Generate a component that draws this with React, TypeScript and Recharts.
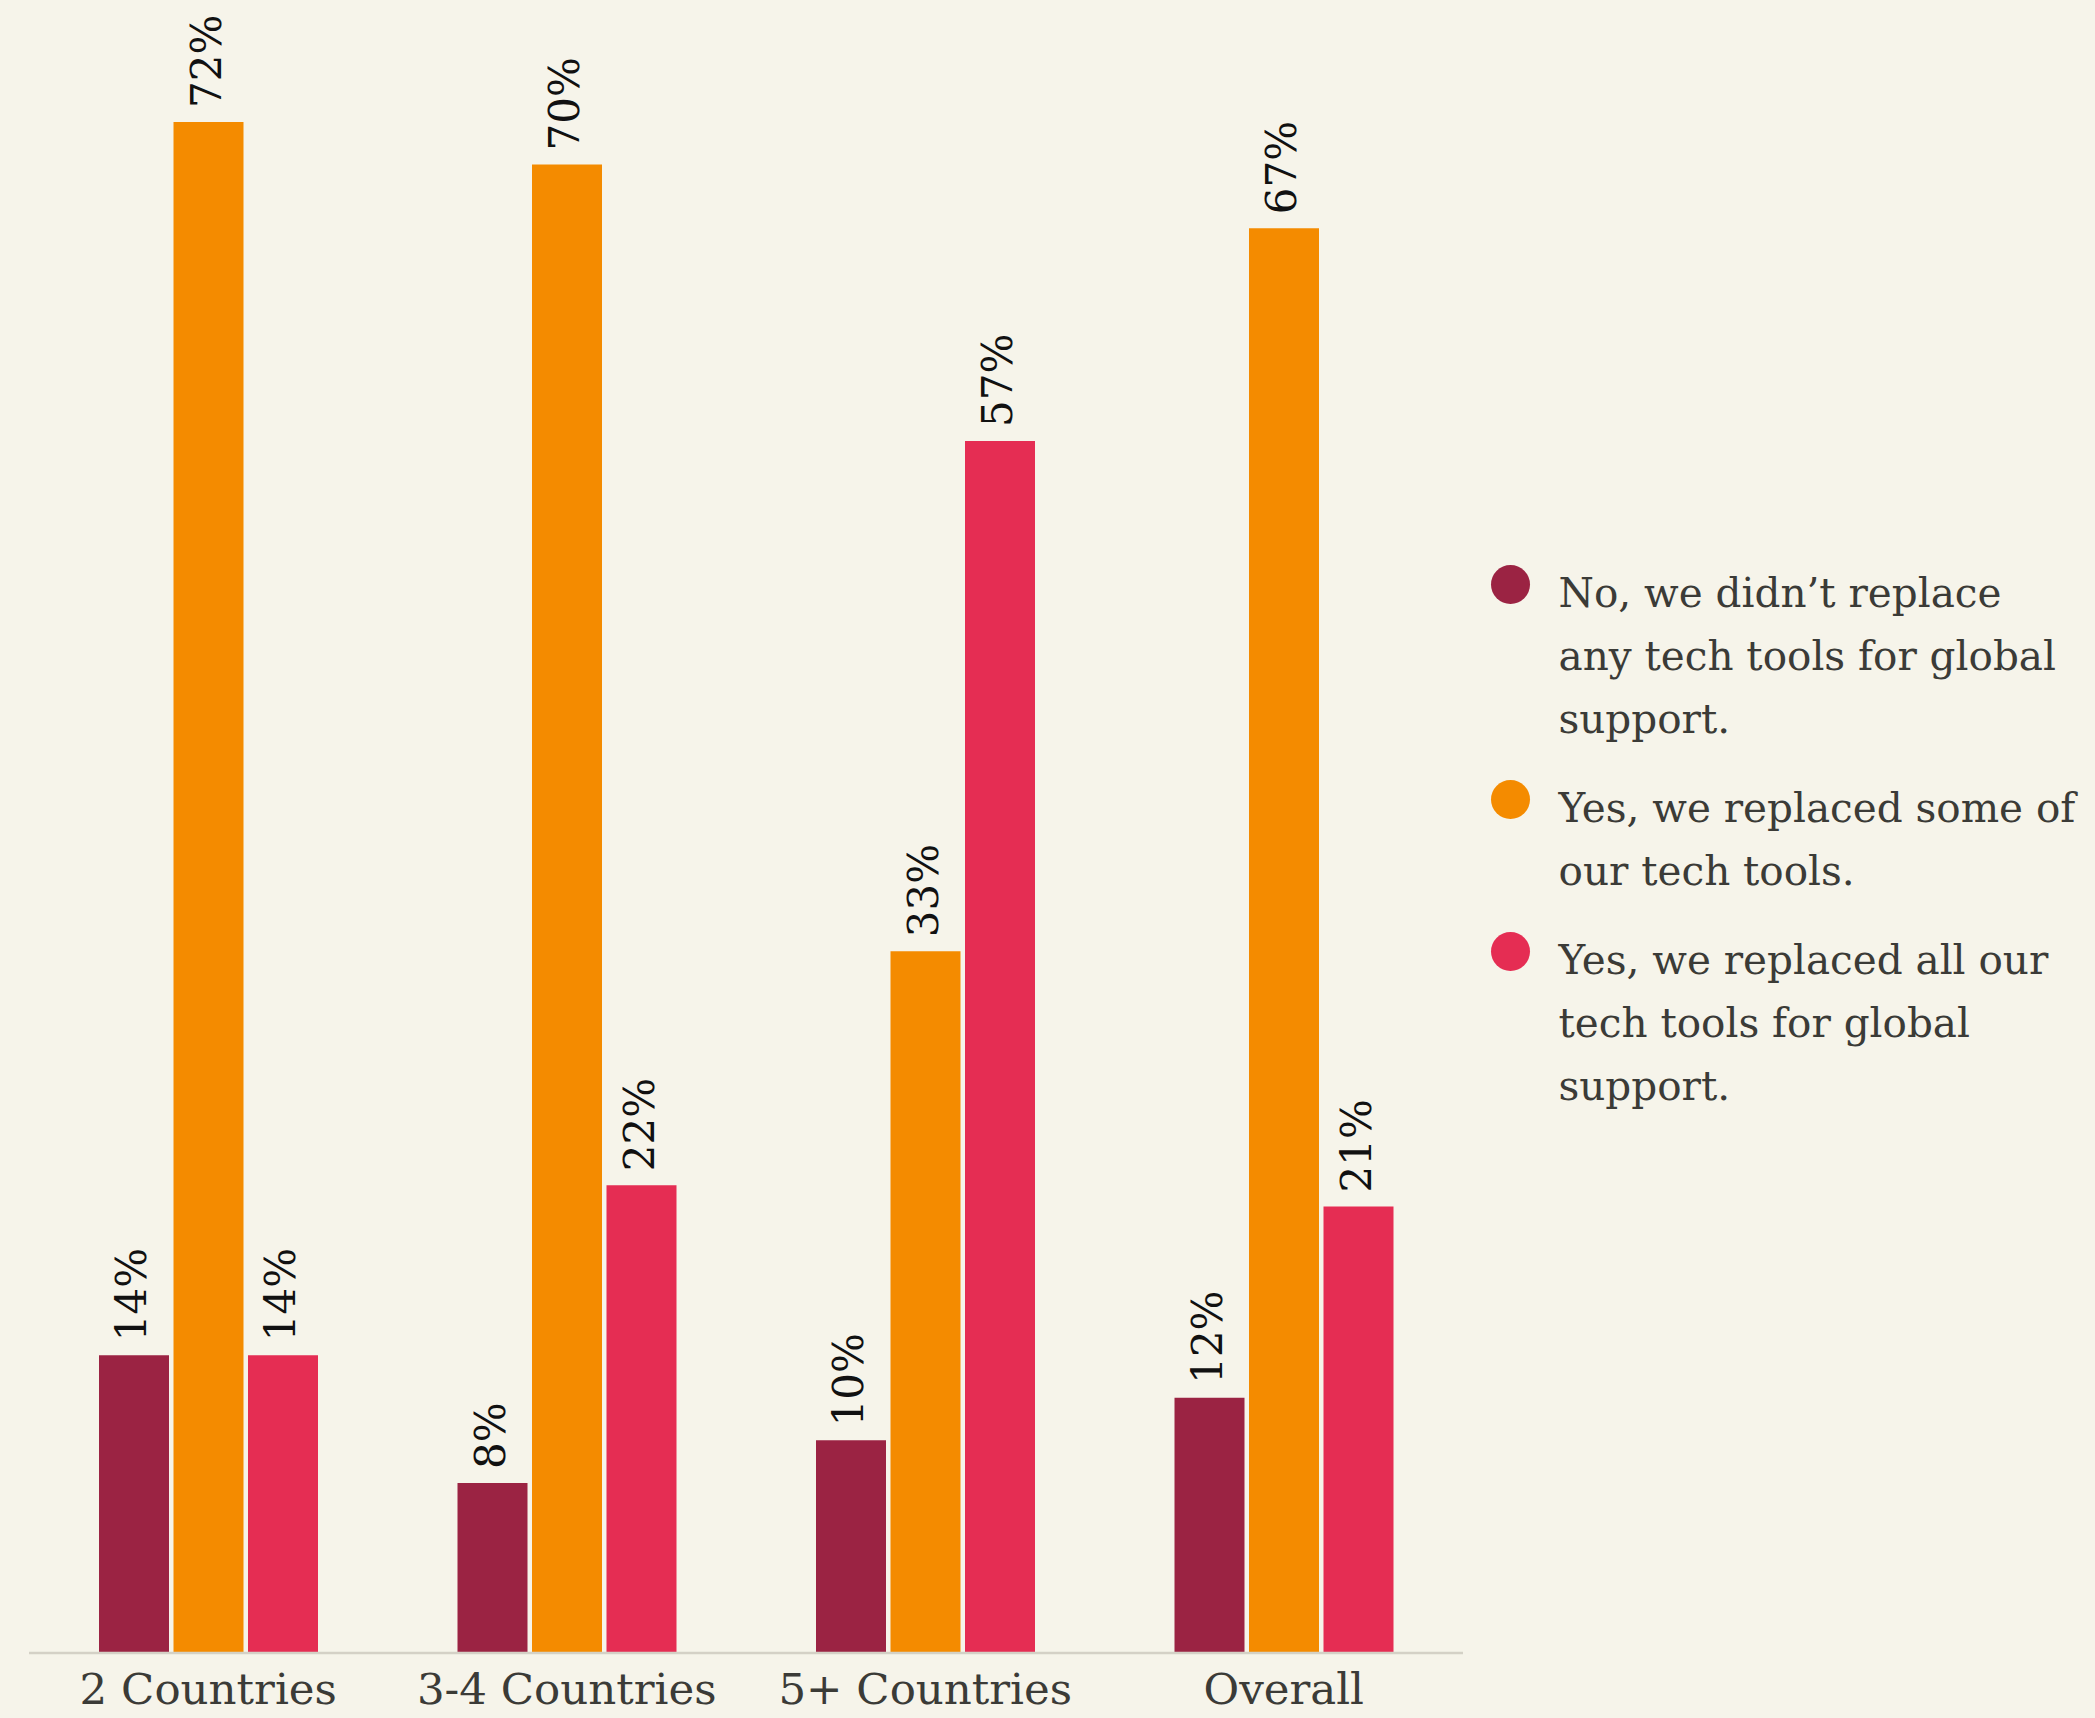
import { BarChart, Bar, XAxis, YAxis, Legend, LabelList } from "recharts";

const categories = ["2 Countries", "3-4 Countries", "5+ Countries", "Overall"];
const noReplace = [14, 8, 10, 12];
const someReplace = [72, 70, 33, 67];
const allReplace = [14, 22, 57, 21];

const seriesNames = [
  "No, we didn’t replace any tech tools for global support.",
  "Yes, we replaced some of our tech tools.",
  "Yes, we replaced all our tech tools for global support.",
];
// legend text broken the way the reference wraps it
const legendLines = [
  ["No, we didn’t replace", "any tech tools for global", "support."],
  ["Yes, we replaced some of", "our tech tools."],
  ["Yes, we replaced all our", "tech tools for global", "support."],
];

const COLORS = ["#9b2343", "#f48b00", "#e52d53"];
const FONT = "'DejaVu Serif', serif";

const data = categories.map((name, i) => ({
  name,
  no: noReplace[i],
  some: someReplace[i],
  all: allReplace[i],
}));

const ValueLabel = (props: any) => {
  const { x, y, width, value } = props;
  const cx = x + width / 2 - 2;
  const ty = y - 14;
  return (
    <text
      x={cx}
      y={ty}
      transform={`rotate(-90 ${cx} ${ty})`}
      textAnchor="start"
      dominantBaseline="central"
      fontSize={42}
      fontFamily={FONT}
      fill="#111111"
    >
      {value}%
    </text>
  );
};

const LegendBox = () => (
  <div style={{ fontFamily: FONT, fontSize: 40.5, color: "#3b3b37" }}>
    {legendLines.map((lines, i) => (
      <div key={i} style={{ display: "flex", marginBottom: 26 }}>
        <div
          style={{
            width: 39,
            height: 39,
            borderRadius: "50%",
            background: COLORS[i],
            marginTop: 2.5,
            marginRight: 28.5,
            flexShrink: 0,
          }}
        />
        <div style={{ lineHeight: "63px", whiteSpace: "nowrap" }} title={seriesNames[i]}>
          {lines.map((l, j) => (
            <div key={j}>{l}</div>
          ))}
        </div>
      </div>
    ))}
  </div>
);

export default function App() {
  return (
    <div
      style={{
        position: "absolute",
        left: 0,
        top: 0,
        width: 2095,
        height: 1718,
        background: "#f6f4ea",
      }}
    >
      <BarChart
        width={2095}
        height={1718}
        data={data}
        margin={{ top: 122, right: 632, left: 29, bottom: 5 }}
        barSize={70}
        barGap={4.5}
      >
        <XAxis
          dataKey="name"
          height={60}
          interval={0}
          tickLine={false}
          tickMargin={14}
          axisLine={{ stroke: "#d4d1c6", strokeWidth: 2.5 }}
          tick={{ fill: "#3b3b37", fontSize: 43.5, fontFamily: FONT }}
        />
        <YAxis hide domain={[0, 72]} />
        <Legend
          layout="horizontal"
          verticalAlign="middle"
          align="center"
          content={() => <LegendBox />}
          wrapperStyle={{ left: 1491, top: 562, width: 600 }}
        />
        <Bar dataKey="no" name={seriesNames[0]} fill={COLORS[0]} isAnimationActive={false}>
          <LabelList dataKey="no" content={ValueLabel} />
        </Bar>
        <Bar dataKey="some" name={seriesNames[1]} fill={COLORS[1]} isAnimationActive={false}>
          <LabelList dataKey="some" content={ValueLabel} />
        </Bar>
        <Bar dataKey="all" name={seriesNames[2]} fill={COLORS[2]} isAnimationActive={false}>
          <LabelList dataKey="all" content={ValueLabel} />
        </Bar>
      </BarChart>
    </div>
  );
}
